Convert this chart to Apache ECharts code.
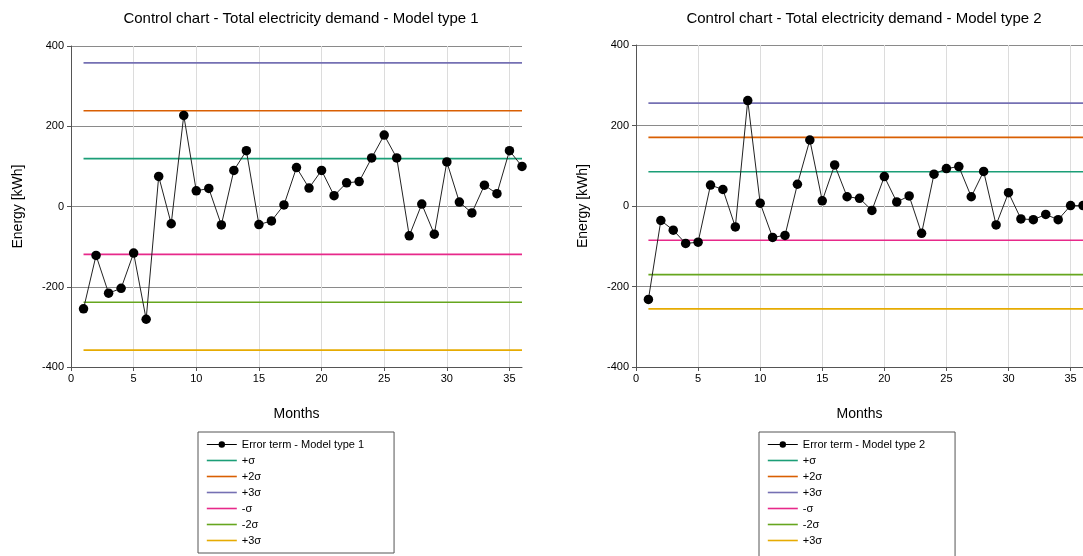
<!DOCTYPE html>
<html><head><meta charset="utf-8">
<script src="https://cdn.jsdelivr.net/npm/echarts@6/dist/echarts.min.js"></script>
<style>html,body{margin:0;padding:0;background:#fff;overflow:hidden}#c{width:1083px;height:556px}</style>
</head><body><div id="c"></div>
<script>
const months = [1,2,3,4,5,6,7,8,9,10,11,12,13,14,15,16,17,18,19,20,21,22,23,24,25,26,27,28,29,30,31,32,33,34,35,36];
const errorModel1 = [-255,-122,-216,-204,-116,-281,75,-43,227,39,45,-46,90,139,-45,-36,4,97,46,90,27,59,62,121,178,121,-73,6,-69,111,11,-16,53,32,139,100];
const errorModel2 = [-232,-36,-60,-93,-90,52,41,-52,262,7,-78,-73,54,164,13,102,23,19,-11,73,10,25,-68,79,93,98,23,86,-47,33,-32,-34,-21,-34,1,1];
const controlNames = ['+σ','+2σ','+3σ','-σ','-2σ','-3σ'];
const controlLabels = ['+σ','+2σ','+3σ','-σ','-2σ','+3σ'];
const controlLevels1 = [119.3, 238.6, 357.9, -119.3, -238.6, -357.9];
const controlLevels2 = [85.2, 170.4, 255.6, -85.2, -170.4, -255.6];
const controlColors = ['#1b9e77','#d95f02','#7570b3','#e7298a','#66a61e','#e6ab02'];
const yTicks = {min:-400, max:400, interval:200};
const xRange = {min:0, max:36, interval:5};

const font = 'Liberation Sans, Arial, sans-serif';
const chart = echarts.init(document.getElementById('c'), null, {renderer:'canvas'});

function xAx(i){return {type:'value', gridIndex:i, min:xRange.min, max:xRange.max, interval:xRange.interval,
  name:'Months', nameLocation:'middle', nameGap:40, nameTextStyle:{fontFamily:font,fontSize:14,color:'#000'},
  axisLine:{onZero:false, lineStyle:{color:'#555',width:1}}, axisTick:{show:true, inside:false, length:4, lineStyle:{color:'#555'}},
  axisLabel:{fontFamily:font,fontSize:11,color:'#000',showMaxLabel:false, margin:6},
  splitLine:{show:true, showMaxLine:false, lineStyle:{color:'#dcdcdc',width:1}}};}
function yAx(i){return {type:'value', gridIndex:i, min:yTicks.min, max:yTicks.max, interval:yTicks.interval,
  name:'Energy [kWh]', nameLocation:'middle', nameGap:46, nameTextStyle:{fontFamily:font,fontSize:14,color:'#000'},
  axisLine:{show:true, lineStyle:{color:'#555',width:1}}, axisTick:{show:true, inside:false, length:4, lineStyle:{color:'#555'}},
  axisLabel:{fontFamily:font,fontSize:11,color:'#000', margin:7},
  splitLine:{show:true, lineStyle:{color:'#8a8a8a',width:1}}};}

const series = [];
function addChart(idx, errName, errData, levels){
  series.push({name:errName, type:'line', xAxisIndex:idx, yAxisIndex:idx,
    data: months.map((m,k)=>[m, errData[k]]), symbol:'circle', symbolSize:9.5,
    lineStyle:{color:'#222',width:1}, itemStyle:{color:'#000'}, z:5, animation:false});
  controlNames.forEach((n,k)=>{
    series.push({name:n, type:'line', xAxisIndex:idx, yAxisIndex:idx,
      data:[[months[0], levels[k]],[months[months.length-1], levels[k]]], symbol:'none',
      lineStyle:{color:controlColors[k], width:1.6}, itemStyle:{color:controlColors[k]}, z:3, animation:false});
  });
}
addChart(0,'Error term - Model type 1', errorModel1, controlLevels1);
addChart(1,'Error term - Model type 2', errorModel2, controlLevels2);

function legendFor(errName, left, padBottom){
  const data = [{name:errName, itemStyle:{color:'#000'}, lineStyle:{color:'#000', width:1}}]
    .concat(controlNames.map((n,k)=>({name:n, itemStyle:{opacity:0}, lineStyle:{color:controlColors[k], width:1.6}})));
  return {orient:'vertical', left:left, top:432, height:108, data:data,
    formatter:(name)=>{const k=controlNames.indexOf(name); return k>=0?controlLabels[k]:name;},
    itemWidth:30, itemHeight:8, itemGap:5, padding:[7,30,padBottom,8],
    borderColor:'#555', borderWidth:1, borderRadius:0,
    textStyle:{fontFamily:font,fontSize:11,color:'#000'}, selectedMode:false};
}

chart.setOption({
  animation:false,
  title:[
    {text:'Control chart - Total electricity demand - Model type 1', left:296, top:6, textAlign:'center',
     textStyle:{fontFamily:font,fontSize:15,fontWeight:'normal',color:'#000'}},
    {text:'Control chart - Total electricity demand - Model type 2', left:859, top:6, textAlign:'center',
     textStyle:{fontFamily:font,fontSize:15,fontWeight:'normal',color:'#000'}}
  ],
  grid:[
    {left:71, top:46, width:451, height:321},
    {left:636, top:45, width:448, height:322}
  ],
  xAxis:[xAx(0), xAx(1)],
  yAxis:[yAx(0), yAx(1)],
  legend:[legendFor('Error term - Model type 1',198, 7), legendFor('Error term - Model type 2',759, 30)],
  series:series
});
</script></body></html>
